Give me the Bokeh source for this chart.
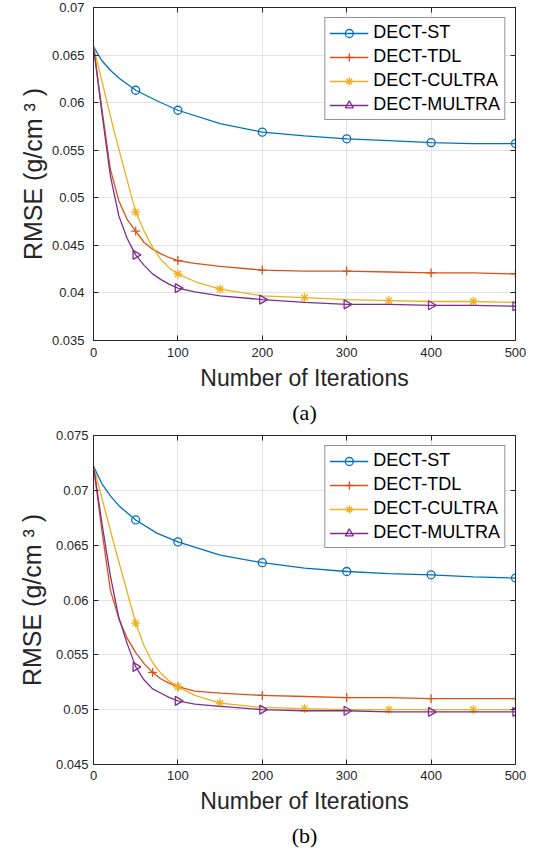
from math import pi
from bokeh.plotting import figure
from bokeh.layouts import column
from bokeh.models import (Range1d, FixedTicker, LinearAxis, Legend, LegendItem,
                          CustomJSTickFormatter, Title)
from bokeh.embed import file_html
from bokeh.resources import INLINE

# ---------------- data ----------------
series_names = ["DECT-ST", "DECT-TDL", "DECT-CULTRA", "DECT-MULTRA"]
x_ticks = [0, 100, 200, 300, 400, 500]
ya_ticks = [0.035, 0.04, 0.045, 0.05, 0.055, 0.06, 0.065, 0.07]
yb_ticks = [0.045, 0.05, 0.055, 0.06, 0.065, 0.07, 0.075]

# panel (a)
a_st_iter = [0, 10, 20, 30, 50, 75, 100, 150, 200, 250, 300, 350, 400, 450, 500]
a_st_rmse = [0.0659, 0.0644, 0.0634, 0.0626, 0.0613, 0.0602, 0.0592, 0.0578, 0.0569,
             0.0565, 0.0562, 0.0560, 0.0558, 0.0557, 0.0557]
a_st_mark = [50, 100, 200, 300, 400, 500]

a_tdl_iter = [0, 10, 20, 30, 40, 50, 60, 70, 80, 90, 100, 120, 150, 200, 250, 300, 350, 400, 450, 500]
a_tdl_rmse = [0.0659, 0.0593, 0.0530, 0.0497, 0.0477, 0.0465, 0.0453, 0.0446, 0.0441, 0.0437,
              0.0434, 0.0431, 0.0428, 0.0424, 0.0423, 0.0423, 0.0422, 0.0421, 0.0421, 0.0420]
a_tdl_mark = [50, 100, 200, 300, 400, 500]

a_cul_iter = [0, 25, 50, 60, 70, 80, 90, 100, 120, 150, 200, 250, 300, 350, 400, 450, 500]
a_cul_rmse = [0.0659, 0.0568, 0.0485, 0.0465, 0.0448, 0.0435, 0.0426, 0.0420, 0.0412, 0.0404,
              0.0397, 0.0395, 0.0393, 0.0392, 0.0391, 0.0391, 0.0390]
a_cul_mark = [50, 100, 150, 250, 350, 450]

a_mul_iter = [0, 10, 20, 30, 40, 50, 60, 70, 80, 90, 100, 120, 150, 200, 250, 300, 350, 400, 450, 500]
a_mul_rmse = [0.0659, 0.0589, 0.0523, 0.0481, 0.0457, 0.0440, 0.0429, 0.0420, 0.0414, 0.0409,
              0.0405, 0.0401, 0.0397, 0.0393, 0.0390, 0.0388, 0.0388, 0.0387, 0.0387, 0.0386]
a_mul_mark = [50, 100, 200, 300, 400, 500]

# panel (b)
b_st_iter = [0, 10, 20, 30, 50, 75, 100, 150, 200, 250, 300, 350, 400, 450, 500]
b_st_rmse = [0.0722, 0.0706, 0.0695, 0.0686, 0.0673, 0.0661, 0.0653, 0.0641, 0.0634,
             0.0629, 0.0626, 0.0624, 0.0623, 0.0621, 0.0620]
b_st_mark = [50, 100, 200, 300, 400, 500]

b_tdl_iter = [0, 10, 20, 30, 40, 50, 60, 70, 80, 90, 100, 120, 150, 200, 250, 300, 350, 400, 450, 500]
b_tdl_rmse = [0.0722, 0.0663, 0.0609, 0.0583, 0.0565, 0.0552, 0.0542, 0.0534, 0.0528, 0.0524,
              0.0521, 0.0517, 0.0515, 0.0513, 0.0512, 0.0511, 0.0511, 0.0510, 0.0510, 0.0510]
b_tdl_mark = [70, 100, 200, 300, 400, 500]

b_cul_iter = [0, 25, 50, 60, 70, 80, 90, 100, 120, 150, 200, 250, 300, 350, 400, 450, 500]
b_cul_rmse = [0.0722, 0.0649, 0.0579, 0.0558, 0.0543, 0.0533, 0.0526, 0.0521, 0.0513, 0.0506,
              0.0502, 0.0501, 0.0500, 0.0500, 0.0500, 0.0500, 0.0500]
b_cul_mark = [50, 100, 150, 250, 350, 450]

b_mul_iter = [0, 10, 20, 30, 40, 50, 60, 70, 80, 90, 100, 120, 150, 200, 250, 300, 350, 400, 450, 500]
b_mul_rmse = [0.0722, 0.0670, 0.0622, 0.0584, 0.0560, 0.0539, 0.0527, 0.0519, 0.0515, 0.0511,
              0.0508, 0.0505, 0.0503, 0.0500, 0.0499, 0.0499, 0.0498, 0.0498, 0.0498, 0.0498]
b_mul_mark = [50, 100, 200, 300, 400, 500]

y_title = "RMSE (g/cm \u00b3 )"
x_title = "Number of Iterations"

# ---------------- style ----------------
FONT = "Liberation Sans"
SERIF = "Liberation Serif"
AX = "#262626"
GRID = "#e3e3e3"
COLORS = ["#0072BD", "#D95319", "#EDB120", "#7E2F8E"]
MARKERS = [dict(marker="circle", size=8, angle=0.0),
           dict(marker="cross", size=9, angle=0.0),
           dict(marker="asterisk", size=9, angle=0.0),
           dict(marker="triangle", size=9, angle=-pi / 2)]

fmt = CustomJSTickFormatter(code="return Number(tick.toPrecision(6)).toString();")
blank = CustomJSTickFormatter(code="return '';")


def panel(g, yticks, series, caption):
    p = figure(width=g["w"], height=g["h"],
               x_range=Range1d(0, 500), y_range=Range1d(yticks[0], yticks[-1]),
               output_backend="svg", toolbar_location=None,
               min_border_left=g["left"], min_border_right=g["right"],
               min_border_top=g["top"], min_border_bottom=g["bottom"],
               background_fill_color="white", border_fill_color="white",
               outline_line_color=AX, outline_line_width=1)

    for ax, ticks in ((p.xaxis[0], x_ticks), (p.yaxis[0], yticks)):
        ax.ticker = FixedTicker(ticks=ticks)
        ax.formatter = fmt
        ax.axis_line_color = AX
        ax.major_tick_line_color = AX
        ax.major_tick_in = 5
        ax.major_tick_out = 0
        ax.minor_tick_line_color = None
        ax.major_label_text_font = FONT
        ax.major_label_text_font_size = "13px"
        ax.major_label_text_color = AX
        ax.axis_label_standoff = 0
    p.xaxis[0].major_label_standoff = g["xstand"]
    p.yaxis[0].major_label_standoff = g["ystand"]

    top_ax = LinearAxis(ticker=FixedTicker(ticks=x_ticks), formatter=blank)
    right_ax = LinearAxis(ticker=FixedTicker(ticks=yticks), formatter=blank)
    for ax in (top_ax, right_ax):
        ax.axis_line_color = AX
        ax.major_tick_line_color = AX
        ax.major_tick_in = 5
        ax.major_tick_out = 0
        ax.minor_tick_line_color = None
        ax.major_label_standoff = 0
        ax.major_label_text_font_size = "1px"
    p.add_layout(top_ax, "above")
    p.add_layout(right_ax, "right")

    for grid, ticks in ((p.xgrid[0], x_ticks), (p.ygrid[0], yticks)):
        grid.ticker = FixedTicker(ticks=ticks)
        grid.grid_line_color = GRID
        grid.grid_line_width = 1

    items = []
    for name, (it, rm, mk), col, m in zip(series_names, series, COLORS, MARKERS):
        lr = p.line(it, rm, line_color=col, line_width=1.3)
        lookup = dict(zip(it, rm))
        sr = p.scatter(mk, [lookup[k] for k in mk], marker=m["marker"], size=m["size"],
                       angle=m["angle"], line_color=col, fill_color=None, line_width=1.3)
        items.append(LegendItem(label=name, renderers=[lr, sr]))

    legend = Legend(items=items, location="top_right", margin=g["lmargin"], padding=4,
                    spacing=3, label_height=20, glyph_height=20, glyph_width=39,
                    label_standoff=5, label_text_font=FONT, label_text_font_size="18px",
                    label_text_color="black", border_line_color=AX, border_line_width=1,
                    background_fill_color="white", background_fill_alpha=1.0)
    p.add_layout(legend)

    p.add_layout(Title(text=y_title, align="center", offset=g["yoff"], standoff=g["ystd"],
                       text_font=FONT, text_font_size="25px", text_font_style="normal",
                       text_color=AX), "left")
    p.add_layout(Title(text=x_title, align="center", offset=g["xoff"], standoff=g["xstd"],
                       text_font=FONT, text_font_size="23px", text_font_style="normal",
                       text_color=AX), "below")
    p.add_layout(Title(text=caption, align="center", offset=g["coff"], standoff=g["cstd"],
                       text_font=SERIF, text_font_size="22px", text_font_style="normal",
                       text_color="black"), "below")
    return p


ga = dict(w=538, h=427, left=93, right=23, top=7, bottom=85, xstand=7, ystand=9,
          lmargin=10, yoff=1, ystd=4, xoff=-17, xstd=7, coff=-34, cstd=6)
gb = dict(w=538, h=425, left=88, right=18, top=8, bottom=88, xstand=6, ystand=5,
          lmargin=10, yoff=0, ystd=14, xoff=-17, xstd=6, coff=-35, cstd=8)

series_a = [(a_st_iter, a_st_rmse, a_st_mark), (a_tdl_iter, a_tdl_rmse, a_tdl_mark),
            (a_cul_iter, a_cul_rmse, a_cul_mark), (a_mul_iter, a_mul_rmse, a_mul_mark)]
series_b = [(b_st_iter, b_st_rmse, b_st_mark), (b_tdl_iter, b_tdl_rmse, b_tdl_mark),
            (b_cul_iter, b_cul_rmse, b_cul_mark), (b_mul_iter, b_mul_rmse, b_mul_mark)]

pa = panel(ga, ya_ticks, series_a, "(a)")
pb = panel(gb, yb_ticks, series_b, "(b)")

layout = column(pa, pb, spacing=0)
open("out.html", "w").write(file_html(layout, INLINE))
